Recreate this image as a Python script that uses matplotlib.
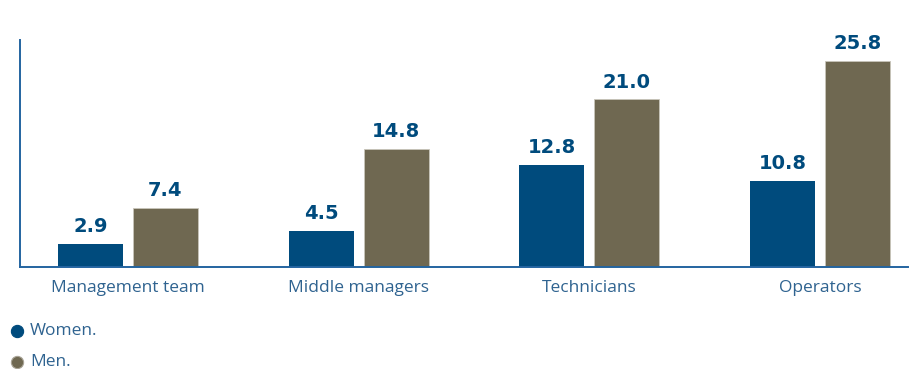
import numpy as np
import matplotlib.pyplot as plt
from matplotlib.lines import Line2D

categories = ['Management team', 'Middle managers', 'Technicians', 'Operators']
women = [2.9, 4.5, 12.8, 10.8]
men = [7.4, 14.8, 21.0, 25.8]

c_women = '#004b7d'
c_men = '#6f6851'
c_text = '#2f6390'

plt.rcParams['font.family'] = ['Open Sans', 'DejaVu Sans']

fig = plt.figure(figsize=(9.14, 3.69), dpi=100)
ax = fig.add_axes([20 / 914, 102 / 369, 888 / 914, 227 / 369])

x = np.arange(len(categories))
w = 0.282
off = 0.1625
b1 = ax.bar(x - off, women, w, color=c_women)
b2 = ax.bar(x + off, men, w, color=c_men, edgecolor='#c9c5bb', linewidth=0.6)

# value labels over each bar
for bars, vals in [(b1, women), (b2, men)]:
    for b, v in zip(bars, vals):
        ax.annotate(f'{v:.1f}', (b.get_x() + b.get_width() / 2, v),
                    xytext=(0, 5.5), textcoords='offset points',
                    ha='center', va='bottom', fontsize=14,
                    fontweight='bold', color=c_women, family='DejaVu Sans')

ax.set_xlim(-0.468, 3.381)
ax.set_ylim(0, 28.4)
ax.set_xticks(x)
ax.set_xticklabels(categories, fontsize=12.5, color=c_text)
ax.tick_params(axis='x', length=0, pad=9)
ax.set_yticks([])
for s in ['top', 'right']:
    ax.spines[s].set_visible(False)
for s in ['left', 'bottom']:
    ax.spines[s].set_color('#2464a0')
    ax.spines[s].set_linewidth(1.4)

# legend rows at the bottom left
rows = [('Women.', c_women, c_women, 331), ('Men.', c_men, '#a8a396', 362)]
for label, fc, ec, ypx in rows:
    yf = 1 - ypx / 369
    fig.add_artist(Line2D([17 / 914], [yf], marker='o', markersize=8.8,
                          markerfacecolor=fc, markeredgecolor=ec,
                          markeredgewidth=0.8, linestyle='none',
                          transform=fig.transFigure))
    fig.text(30 / 914, yf, label, color=c_text, fontsize=12.5,
             ha='left', va='center')

fig.savefig('out.png', dpi=100)
